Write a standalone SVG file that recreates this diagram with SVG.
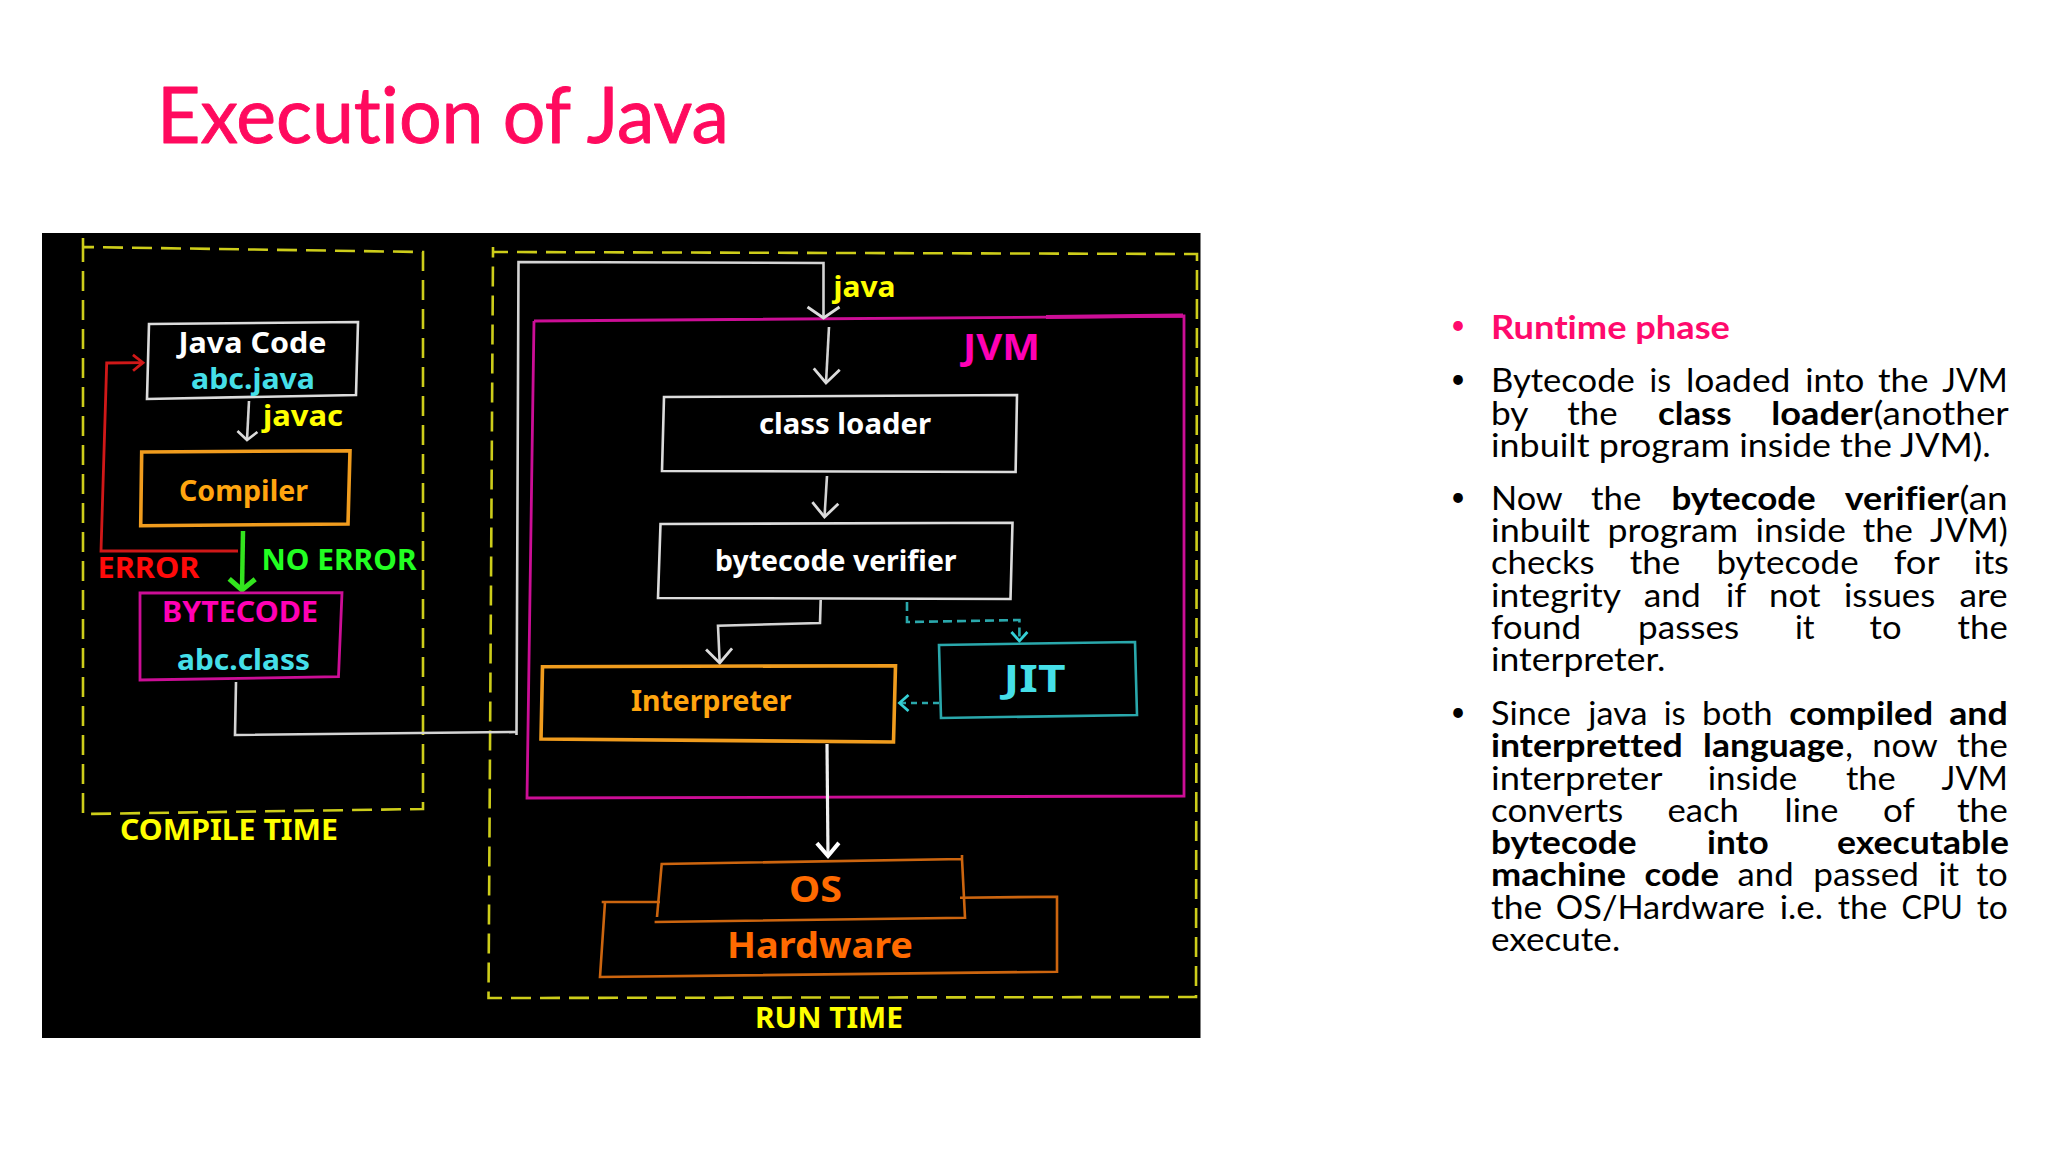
<svg xmlns="http://www.w3.org/2000/svg" width="2048" height="1152" viewBox="0 0 2048 1152">
<style>
.bg{fill:#fff}
.panel{fill:#000}
.title{font:400 78px Lato,"Open Sans",sans-serif;font-variant-ligatures:none;fill:#ff0a5e;stroke:#ff0a5e;stroke-width:.9;stroke-linejoin:round}
.b{font:400 33px Lato,"Open Sans",sans-serif;font-variant-ligatures:none;fill:#000}
.bullet{font:400 26px Lato,"Open Sans",sans-serif;fill:#000}
.bb{font-weight:700}
.pink{fill:#ff0a6c;font-weight:700}
.l{font:700 29px "Noto Sans","Open Sans",sans-serif;font-variant-ligatures:none}
.box{fill:none;stroke-linejoin:miter}
.dash{fill:none;stroke:#cdcd1a;stroke-width:2.6;stroke-dasharray:20 9}
.white{stroke:#dcdcdc;stroke-width:2.6}
.orange{stroke:#f09c1e;stroke-width:3.6}
.magenta{stroke:#cc0e96;stroke-width:2.8}
.teal{stroke:#2aa8ac;stroke-width:2.6}
.rust{stroke:#cc650f;stroke-width:2.6}
.cw{fill:#fff}.cc{fill:#45dfe8}.cy{fill:#ffff00}.co{fill:#ffa50f}.cm{fill:#ff00b4}.cr{fill:#ff0a0a}.cg{fill:#22ff22}.cd{fill:#ff6a00}
.con{fill:none}
.cwl{stroke:#d4d4d4;stroke-width:2.6}
</style>
<defs>
<marker id="hw" markerUnits="userSpaceOnUse" viewBox="-20 -20 24 40" refX="0" refY="0" markerWidth="24" markerHeight="40" orient="auto"><path d="M-14 -13L0 0L-14 13" fill="none" stroke="#dcdcdc" stroke-width="2.8"/></marker>
<marker id="hs" markerUnits="userSpaceOnUse" viewBox="-20 -20 24 40" refX="0" refY="0" markerWidth="24" markerHeight="40" orient="auto"><path d="M-8.500 -10L0 0L-8.500 10" fill="none" stroke="#dcdcdc" stroke-width="2.6"/></marker>
<marker id="hj" markerUnits="userSpaceOnUse" viewBox="-20 -20 24 40" refX="0" refY="0" markerWidth="24" markerHeight="40" orient="auto"><path d="M-11 -16L0 0L-11 16" fill="none" stroke="#dcdcdc" stroke-width="2.8"/></marker>
<marker id="hb" markerUnits="userSpaceOnUse" viewBox="-20 -20 24 40" refX="0" refY="0" markerWidth="24" markerHeight="40" orient="auto"><path d="M-13 -11L0 0L-13 11" fill="none" stroke="#fff" stroke-width="4"/></marker>
<marker id="hr" markerUnits="userSpaceOnUse" viewBox="-20 -20 24 40" refX="0" refY="0" markerWidth="24" markerHeight="40" orient="auto"><path d="M-10 -8L0 0L-10 8" fill="none" stroke="#d01818" stroke-width="2.8"/></marker>
<marker id="hg" markerUnits="userSpaceOnUse" viewBox="-20 -20 24 40" refX="0" refY="0" markerWidth="24" markerHeight="40" orient="auto"><path d="M-11 -13L0 0L-11 13" fill="none" stroke="#33e51e" stroke-width="5"/></marker>
<marker id="ht" markerUnits="userSpaceOnUse" viewBox="-20 -20 24 40" refX="0" refY="0" markerWidth="24" markerHeight="40" orient="auto"><path d="M-9 -8L0 0L-9 8" fill="none" stroke="#35d0d6" stroke-width="2.8"/></marker>
</defs>
<rect class="bg" width="2048" height="1152"/>
<text id="title" class="title" x="157" y="143" textLength="572" lengthAdjust="spacingAndGlyphs">Execution of Java</text>
<rect class="panel" x="42" y="233" width="1158.5" height="805"/>

<g id="compile-time">
<path class="dash" d="M83 238V247L423 252V809L83 814V247"/>
<text class="l cy" x="120" y="840" textLength="218" lengthAdjust="spacingAndGlyphs">COMPILE TIME</text>
</g>
<g id="run-time">
<path class="dash" d="M493 247V252L1197 254L1196 997L488.500 998L493 252"/>
<text class="l cy" x="755" y="1028" textLength="148" lengthAdjust="spacingAndGlyphs">RUN TIME</text>
</g>
<g id="jvm">
<path class="box magenta" d="M534 321L1184 316L1184 796L527 798L534 321"/>
<path class="box magenta" d="M1046 317L1183 315.500" style="stroke-width:4"/>
<text class="l cm" x="963" y="359.500" style="font-size:36px" textLength="77" lengthAdjust="spacingAndGlyphs">JVM</text>
</g>

<g id="connectors">
<path class="con cwl" d="M236 682L235 735L516.500 732"/>
<path class="con cwl" d="M516.500 735L518.500 262L823.500 263V318" marker-end="url(#hj)"/>
<path class="con cwl" d="M249 401L247 440" marker-end="url(#hs)"/>
<path class="con" d="M238 551H101L106.700 363L143 362.700" stroke="#d01818" stroke-width="2.8" marker-end="url(#hr)"/>
<path class="con" d="M243 531L242 590" stroke="#33e51e" stroke-width="4.500" marker-end="url(#hg)"/>
<path class="con cwl" d="M829 327L826 383" marker-end="url(#hw)"/>
<path class="con cwl" d="M827 476L824.500 517" marker-end="url(#hw)"/>
<path class="con cwl" d="M820.700 600L820 623L718 625.700L719.700 663" marker-end="url(#hw)"/>
<path class="con" d="M907 602V622L1019.400 620V641" stroke="#2aa8ac" stroke-width="2.6" stroke-dasharray="9 5" marker-end="url(#ht)"/>
<path class="con" d="M939 703H899.500" stroke="#2aa8ac" stroke-width="2.6" stroke-dasharray="6 5" marker-end="url(#ht)"/>
<path class="con" d="M827 744L828 856" stroke="#f0f0f0" stroke-width="3.200" marker-end="url(#hb)"/>
</g>

<g id="java-code">
<path class="box white" d="M149 324L358 322L356 395L147 399Z"/>
<text class="l cw" x="178.500" y="353" textLength="148" lengthAdjust="spacingAndGlyphs">Java Code</text>
<text class="l cc" x="191" y="389" textLength="124" lengthAdjust="spacingAndGlyphs">abc.java</text>
</g>
<text id="javac-label" class="l cy" x="263" y="426" textLength="80" lengthAdjust="spacingAndGlyphs">javac</text>
<g id="compiler">
<path class="box orange" d="M141.700 452L350 450.700L348 524L140.700 525.700Z"/>
<text class="l co" x="179" y="500.500" textLength="129" lengthAdjust="spacingAndGlyphs">Compiler</text>
</g>
<text id="error-label" class="l cr" x="97.500" y="577.500" textLength="102" lengthAdjust="spacingAndGlyphs">ERROR</text>
<text id="no-error-label" class="l cg" x="261.500" y="569.500" textLength="155" lengthAdjust="spacingAndGlyphs">NO ERROR</text>
<g id="bytecode">
<path class="box magenta" d="M140 593L342 592.700L338.500 676.700L140 680Z"/>
<text class="l cm" x="162" y="622" textLength="156" lengthAdjust="spacingAndGlyphs">BYTECODE</text>
<text class="l cc" x="177" y="670" textLength="133" lengthAdjust="spacingAndGlyphs">abc.class</text>
</g>
<text id="java-label" class="l cy" x="833.500" y="296.500" textLength="62" lengthAdjust="spacingAndGlyphs">java</text>
<g id="class-loader">
<path class="box white" d="M664 397L1017 395L1015.600 472L662 471Z"/>
<text class="l cw" x="759" y="434" textLength="172" lengthAdjust="spacingAndGlyphs">class loader</text>
</g>
<g id="bytecode-verifier">
<path class="box white" d="M660.500 524L1012.500 522.700L1010.500 599L658 598Z"/>
<text class="l cw" x="715" y="571" textLength="241.600" lengthAdjust="spacingAndGlyphs">bytecode verifier</text>
</g>
<g id="interpreter">
<path class="box orange" d="M542.500 666.700L895.500 665.700L893.500 742L541 739Z"/>
<text class="l co" x="631" y="710.500" textLength="160.500" lengthAdjust="spacingAndGlyphs">Interpreter</text>
</g>
<g id="jit">
<path class="box teal" d="M939 645L1135 642L1137 715L941 718Z"/>
<text class="l cc" x="1003.500" y="692" style="font-size:37px" textLength="62" lengthAdjust="spacingAndGlyphs">JIT</text>
</g>
<g id="hardware">
<path class="box rust" d="M601.700 902H660M960 897.700L1057 896.700V971.700L600 977L605 902"/>
<text class="l cd" x="727" y="957.500" style="font-size:36px" textLength="186" lengthAdjust="spacingAndGlyphs">Hardware</text>
</g>
<g id="os">
<path class="box rust" d="M657 917L661.700 864L962 859V855M962 859L965 917.700L654.600 922"/>
<text class="l cd" x="789" y="902" style="font-size:36px" textLength="53" lengthAdjust="spacingAndGlyphs">OS</text>
</g>

<g id="notes">
<text class="bullet" x="1450.500" y="333.800" style="fill:#ff0a6c">•</text>
<text class="bullet" x="1450.500" y="388.100">•</text>
<text class="bullet" x="1450.500" y="506.100">•</text>
<text class="bullet" x="1450.500" y="720.800">•</text>
<text class="b" y="338.500"><tspan class="pink" x="1491" textLength="238.900" lengthAdjust="spacingAndGlyphs">Runtime phase</tspan></text>
<text class="b" y="392.200"><tspan x="1491" textLength="143.800" lengthAdjust="spacingAndGlyphs">Bytecode</tspan> <tspan x="1649.500" textLength="21.500" lengthAdjust="spacingAndGlyphs">is</tspan> <tspan x="1685.900" textLength="104.600" lengthAdjust="spacingAndGlyphs">loaded</tspan> <tspan x="1805.300" textLength="59.100" lengthAdjust="spacingAndGlyphs">into</tspan> <tspan x="1878" textLength="50.600" lengthAdjust="spacingAndGlyphs">the</tspan> <tspan x="1942.300" textLength="65.400" lengthAdjust="spacingAndGlyphs">JVM</tspan></text>
<text class="b" y="424.500"><tspan x="1491" textLength="36.600" lengthAdjust="spacingAndGlyphs">by</tspan> <tspan x="1567.300" textLength="50.300" lengthAdjust="spacingAndGlyphs">the</tspan> <tspan class="bb" x="1658" textLength="73.600" lengthAdjust="spacingAndGlyphs">class</tspan> <tspan class="bb" x="1771.300" textLength="101.500" lengthAdjust="spacingAndGlyphs">loader</tspan><tspan x="1873.400" textLength="135.400" lengthAdjust="spacingAndGlyphs">(another</tspan></text>
<text class="b" y="456.500" x="1491" textLength="499.700" lengthAdjust="spacingAndGlyphs">inbuilt program inside the JVM).</text>
<text class="b" y="509.800"><tspan x="1491" textLength="71.100" lengthAdjust="spacingAndGlyphs">Now</tspan> <tspan x="1591" textLength="50.300" lengthAdjust="spacingAndGlyphs">the</tspan> <tspan class="bb" x="1671.400" textLength="144.400" lengthAdjust="spacingAndGlyphs">bytecode</tspan> <tspan class="bb" x="1844.700" textLength="114.500" lengthAdjust="spacingAndGlyphs">verifier</tspan><tspan x="1959.500" textLength="48.200" lengthAdjust="spacingAndGlyphs">(an</tspan></text>
<text class="b" y="542.200"><tspan x="1491" textLength="99" lengthAdjust="spacingAndGlyphs">inbuilt</tspan> <tspan x="1607.500" textLength="130.600" lengthAdjust="spacingAndGlyphs">program</tspan> <tspan x="1755.500" textLength="90.400" lengthAdjust="spacingAndGlyphs">inside</tspan> <tspan x="1862.700" textLength="50.300" lengthAdjust="spacingAndGlyphs">the</tspan> <tspan x="1930.100" textLength="77.700" lengthAdjust="spacingAndGlyphs">JVM)</tspan></text>
<text class="b" y="574.200"><tspan x="1491" textLength="103.600" lengthAdjust="spacingAndGlyphs">checks</tspan> <tspan x="1629.700" textLength="50.600" lengthAdjust="spacingAndGlyphs">the</tspan> <tspan x="1716.500" textLength="142.100" lengthAdjust="spacingAndGlyphs">bytecode</tspan> <tspan x="1893.700" textLength="45.300" lengthAdjust="spacingAndGlyphs">for</tspan> <tspan x="1973.700" textLength="35.200" lengthAdjust="spacingAndGlyphs">its</tspan></text>
<text class="b" y="606.500"><tspan x="1491" textLength="129.200" lengthAdjust="spacingAndGlyphs">integrity</tspan> <tspan x="1643.800" textLength="57.100" lengthAdjust="spacingAndGlyphs">and</tspan> <tspan x="1726.100" textLength="19.600" lengthAdjust="spacingAndGlyphs">if</tspan> <tspan x="1769" textLength="51.400" lengthAdjust="spacingAndGlyphs">not</tspan> <tspan x="1844" textLength="91.200" lengthAdjust="spacingAndGlyphs">issues</tspan> <tspan x="1959.500" textLength="48.200" lengthAdjust="spacingAndGlyphs">are</tspan></text>
<text class="b" y="638.800"><tspan x="1491" textLength="90.200" lengthAdjust="spacingAndGlyphs">found</tspan> <tspan x="1638.100" textLength="101.100" lengthAdjust="spacingAndGlyphs">passes</tspan> <tspan x="1795" textLength="19.600" lengthAdjust="spacingAndGlyphs">it</tspan> <tspan x="1869.600" textLength="31.900" lengthAdjust="spacingAndGlyphs">to</tspan> <tspan x="1957.600" textLength="50.100" lengthAdjust="spacingAndGlyphs">the</tspan></text>
<text class="b" y="671.200" x="1491" textLength="174.400" lengthAdjust="spacingAndGlyphs">interpreter.</text>
<text class="b" y="724.800"><tspan x="1491" textLength="79.900" lengthAdjust="spacingAndGlyphs">Since</tspan> <tspan x="1588.300" textLength="59.100" lengthAdjust="spacingAndGlyphs">java</tspan> <tspan x="1663.700" textLength="21.900" lengthAdjust="spacingAndGlyphs">is</tspan> <tspan x="1702" textLength="70.500" lengthAdjust="spacingAndGlyphs">both</tspan> <tspan class="bb" x="1789.200" textLength="144" lengthAdjust="spacingAndGlyphs">compiled</tspan> <tspan class="bb" x="1949.200" textLength="58.500" lengthAdjust="spacingAndGlyphs">and</tspan></text>
<text class="b" y="756.800"><tspan class="bb" x="1491" textLength="191.600" lengthAdjust="spacingAndGlyphs">interpretted</tspan> <tspan class="bb" x="1703.100" textLength="141" lengthAdjust="spacingAndGlyphs">language</tspan><tspan x="1845.200" textLength="7.600" lengthAdjust="spacingAndGlyphs">,</tspan> <tspan x="1872.300" textLength="64.800" lengthAdjust="spacingAndGlyphs">now</tspan> <tspan x="1956.900" textLength="50.900" lengthAdjust="spacingAndGlyphs">the</tspan></text>
<text class="b" y="789.800"><tspan x="1491" textLength="170.600" lengthAdjust="spacingAndGlyphs">interpreter</tspan> <tspan x="1707.700" textLength="89.700" lengthAdjust="spacingAndGlyphs">inside</tspan> <tspan x="1845.900" textLength="49.900" lengthAdjust="spacingAndGlyphs">the</tspan> <tspan x="1941.600" textLength="66.200" lengthAdjust="spacingAndGlyphs">JVM</tspan></text>
<text class="b" y="822.200"><tspan x="1491" textLength="132.300" lengthAdjust="spacingAndGlyphs">converts</tspan> <tspan x="1667.500" textLength="71.300" lengthAdjust="spacingAndGlyphs">each</tspan> <tspan x="1784.600" textLength="53.700" lengthAdjust="spacingAndGlyphs">line</tspan> <tspan x="1883" textLength="31.100" lengthAdjust="spacingAndGlyphs">of</tspan> <tspan x="1956.900" textLength="50.900" lengthAdjust="spacingAndGlyphs">the</tspan></text>
<text class="b bb" y="853.800"><tspan x="1491" textLength="145.700" lengthAdjust="spacingAndGlyphs">bytecode</tspan> <tspan x="1707" textLength="61.700" lengthAdjust="spacingAndGlyphs">into</tspan> <tspan x="1837.100" textLength="171.800" lengthAdjust="spacingAndGlyphs">executable</tspan></text>
<text class="b" y="886.200"><tspan class="bb" x="1491" textLength="135" lengthAdjust="spacingAndGlyphs">machine</tspan> <tspan class="bb" x="1644.600" textLength="74.400" lengthAdjust="spacingAndGlyphs">code</tspan> <tspan x="1737.600" textLength="56" lengthAdjust="spacingAndGlyphs">and</tspan> <tspan x="1813.300" textLength="105.700" lengthAdjust="spacingAndGlyphs">passed</tspan> <tspan x="1938.500" textLength="20.400" lengthAdjust="spacingAndGlyphs">it</tspan> <tspan x="1976" textLength="31.700" lengthAdjust="spacingAndGlyphs">to</tspan></text>
<text class="b" y="918.500"><tspan x="1491" textLength="51.200" lengthAdjust="spacingAndGlyphs">the</tspan> <tspan x="1555.800" textLength="209.100" lengthAdjust="spacingAndGlyphs">OS/Hardware</tspan> <tspan x="1779.700" textLength="43.400" lengthAdjust="spacingAndGlyphs">i.e.</tspan> <tspan x="1837.800" textLength="49.500" lengthAdjust="spacingAndGlyphs">the</tspan> <tspan x="1901.400" textLength="61.300" lengthAdjust="spacingAndGlyphs">CPU</tspan> <tspan x="1976.800" textLength="31" lengthAdjust="spacingAndGlyphs">to</tspan></text>
<text class="b" y="950.500" x="1491" textLength="129.200" lengthAdjust="spacingAndGlyphs">execute.</text>
</g>
</svg>
